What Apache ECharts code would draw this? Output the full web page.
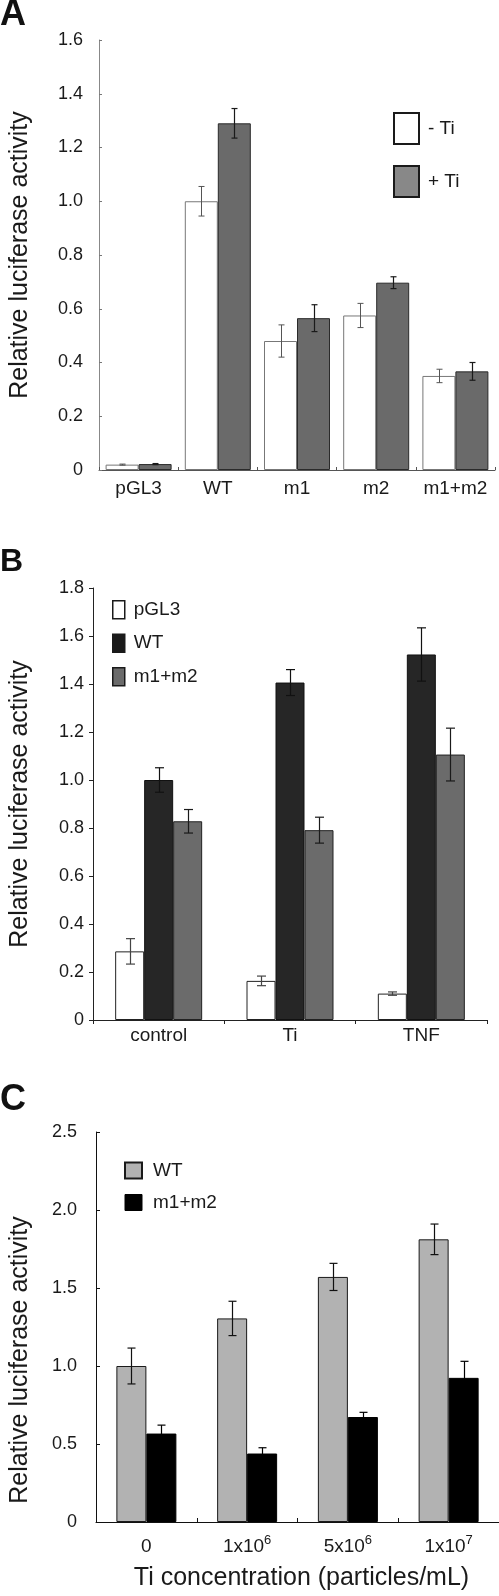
<!DOCTYPE html>
<html>
<head>
<meta charset="utf-8">
<script src="https://cdn.jsdelivr.net/npm/echarts@6/dist/echarts.min.js"></script>
<style>
  html, body { margin: 0; padding: 0; background: #fff; }
  body { width: 499px; height: 1596px; position: relative; overflow: hidden; }
  .panel { position: absolute; left: 0; width: 499px; }
</style>
</head>
<body>
<div id="pa" class="panel" style="top:0;height:500px"></div>
<div id="pb" class="panel" style="top:500px;height:545px"></div>
<div id="pc" class="panel" style="top:1045px;height:551px"></div>
<script>
// ---------- Panel A data ----------
const catsA = ['pGL3', 'WT', 'm1', 'm2', 'm1+m2'];
const minusTi = [0.02, 1.00, 0.48, 0.575, 0.35];
const minusTiErr = [0.002, 0.055, 0.06, 0.045, 0.025];
const plusTi = [0.022, 1.29, 0.565, 0.697, 0.367];
const plusTiErr = [0.002, 0.055, 0.05, 0.022, 0.033];
const yTicksA = ['0', '0.2', '0.4', '0.6', '0.8', '1.0', '1.2', '1.4', '1.6'];

// ---------- Panel B data ----------
const catsB = ['control', 'Ti', 'TNF'];
const pGL3B = [0.286, 0.163, 0.11];
const pGL3BErr = [0.053, 0.02, 0.007];
const wtB = [1.0, 1.406, 1.523];
const wtBErr = [0.051, 0.054, 0.111];
const m12B = [0.828, 0.791, 1.106];
const m12BErr = [0.049, 0.054, 0.11];
const yTicksB = ['0', '0.2', '0.4', '0.6', '0.8', '1.0', '1.2', '1.4', '1.6', '1.8'];

// ---------- Panel C data ----------
const catsC = ['0', '1x10^6', '5x10^6', '1x10^7'];
const wtC = [1.0, 1.305, 1.571, 1.812];
const wtCErr = [0.115, 0.11, 0.087, 0.098];
const m12C = [0.567, 0.439, 0.673, 0.924];
const m12CErr = [0.054, 0.037, 0.03, 0.106];
const yTicksC = ['0', '0.5', '1.0', '1.5', '2.0', '2.5'];

const FONT = 'Liberation Sans, Arial, Helvetica, sans-serif';
const TXT = '#1a1a1a';

function errSeries(values, errs, idx, n, barW, capHalf, color, lw) {
  return {
    type: 'custom',
    silent: true,
    z: 10,
    encode: { x: 0, y: 1 },
    data: values.map((v, i) => [i, v, errs[i]]),
    renderItem: function (params, api) {
      const ci = api.value(0), v = api.value(1), e = api.value(2);
      const off = (idx - (n - 1) / 2) * barW;
      const t = api.coord([ci, v + e]);
      const b = api.coord([ci, v - e]);
      const x = Math.round(t[0] + off) + 0.5;
      const st = { stroke: color, lineWidth: lw };
      return {
        type: 'group',
        children: [
          { type: 'line', shape: { x1: x, y1: t[1], x2: x, y2: b[1] }, style: st },
          { type: 'line', shape: { x1: x - capHalf, y1: t[1], x2: x + capHalf, y2: t[1] }, style: st },
          { type: 'line', shape: { x1: x - capHalf, y1: b[1], x2: x + capHalf, y2: b[1] }, style: st }
        ]
      };
    }
  };
}

function barSeries(name, values, barW, fill, border, bw) {
  return {
    name: name, type: 'bar', data: values, barWidth: barW, barGap: '0%',
    itemStyle: { color: fill, borderColor: border, borderWidth: bw },
    silent: true, animation: false
  };
}

// ---------- Chart A ----------
const chA = echarts.init(document.getElementById('pa'), null, { renderer: 'canvas' });
chA.setOption({
  animation: false,
  textStyle: { fontFamily: FONT },
  title: { text: 'A', left: 0, top: -3, padding: 0, textStyle: { fontFamily: FONT, fontSize: 36, fontWeight: 'bold', color: '#111' } },
  legend: {
    orient: 'vertical', left: 393, top: 112, padding: 0, icon: 'rect',
    itemWidth: 25, itemHeight: 31, itemGap: 20,
    textStyle: { fontFamily: FONT, fontSize: 19, color: TXT, padding: [0, 0, 0, 4] },
    data: [
      { name: '- Ti', itemStyle: { color: '#fff', borderColor: '#1a1a1a', borderWidth: 2 } },
      { name: '+ Ti', itemStyle: { color: '#888', borderColor: '#1a1a1a', borderWidth: 2 } }
    ]
  },
  grid: { left: 94, top: 40, width: 401, height: 430 },
  xAxis: {
    type: 'category', data: catsA,
    axisLine: { lineStyle: { color: '#555', width: 1 } },
    axisTick: { show: true, inside: true, length: 3, lineStyle: { color: '#555' } },
    axisLabel: { fontFamily: FONT, fontSize: 19, color: TXT, margin: 9, interval: 0 }
  },
  yAxis: {
    type: 'value', min: 0, max: 1.6, interval: 0.2,
    name: 'Relative luciferase activity', nameLocation: 'middle', nameGap: 66,
    nameTextStyle: { fontFamily: FONT, fontSize: 25, color: TXT },
    splitLine: { show: false },
    axisLine: { show: true, lineStyle: { color: '#888', width: 1 } },
    axisTick: { show: true, inside: true, length: 3, lineStyle: { color: '#777' } },
    axisLabel: { fontFamily: FONT, fontSize: 18, color: TXT, margin: 16, formatter: (v, i) => yTicksA[i] }
  },
  series: [
    barSeries('- Ti', minusTi, 33, '#fff', '#777', 1),
    barSeries('+ Ti', plusTi, 33, '#6a6a6a', '#2a2a2a', 1),
    errSeries(minusTi, minusTiErr, 0, 2, 33, 3, '#555', 1),
    errSeries(plusTi, plusTiErr, 1, 2, 33, 3, '#1a1a1a', 1.2)
  ]
});

// ---------- Chart B ----------
const chB = echarts.init(document.getElementById('pb'), null, { renderer: 'canvas' });
chB.setOption({
  animation: false,
  textStyle: { fontFamily: FONT },
  title: { text: 'B', left: 0, top: 46, padding: 0, textStyle: { fontFamily: FONT, fontSize: 32, fontWeight: 'bold', color: '#111' } },
  legend: {
    orient: 'vertical', left: 112, top: 100, padding: 0, icon: 'rect',
    itemWidth: 12, itemHeight: 18, itemGap: 14,
    textStyle: { fontFamily: FONT, fontSize: 19, color: TXT, padding: [0, 0, 0, 4] },
    data: [
      { name: 'pGL3', itemStyle: { color: '#fff', borderColor: '#1a1a1a', borderWidth: 1.5 } },
      { name: 'WT', itemStyle: { color: '#1a1a1a', borderColor: '#1a1a1a', borderWidth: 1.5 } },
      { name: 'm1+m2', itemStyle: { color: '#6b6b6b', borderColor: '#1a1a1a', borderWidth: 1.5 } }
    ]
  },
  grid: { left: 88, top: 88, width: 399, height: 435 },
  xAxis: {
    type: 'category', data: catsB,
    axisLine: { lineStyle: { color: '#222', width: 1 } },
    axisTick: { show: true, inside: false, length: 4, lineStyle: { color: '#222' } },
    axisLabel: { fontFamily: FONT, fontSize: 19, color: TXT, margin: 6, interval: 0 }
  },
  yAxis: {
    type: 'value', min: 0, max: 1.8, interval: 0.2,
    name: 'Relative luciferase activity', nameLocation: 'middle', nameGap: 60,
    nameTextStyle: { fontFamily: FONT, fontSize: 25, color: TXT },
    splitLine: { show: false },
    axisLine: { show: true, lineStyle: { color: '#222', width: 1 } },
    axisTick: { show: true, inside: false, length: 4, lineStyle: { color: '#222' } },
    axisLabel: { fontFamily: FONT, fontSize: 18, color: TXT, margin: 9, formatter: (v, i) => yTicksB[i] }
  },
  series: [
    barSeries('pGL3', pGL3B, 29, '#fff', '#222', 1),
    barSeries('WT', wtB, 29, '#262626', '#111', 1),
    barSeries('m1+m2', m12B, 29, '#6b6b6b', '#222', 1),
    errSeries(pGL3B, pGL3BErr, 0, 3, 29, 4.5, '#444', 1.2),
    errSeries(wtB, wtBErr, 1, 3, 29, 4.5, '#111', 1.2),
    errSeries(m12B, m12BErr, 2, 3, 29, 4.5, '#1a1a1a', 1.2)
  ]
});

// ---------- Chart C ----------
const chC = echarts.init(document.getElementById('pc'), null, { renderer: 'canvas' });
chC.setOption({
  animation: false,
  textStyle: { fontFamily: FONT },
  title: { text: 'C', left: 0, top: 37, padding: 0, textStyle: { fontFamily: FONT, fontSize: 36, fontWeight: 'bold', color: '#111' } },
  legend: {
    orient: 'vertical', left: 124, top: 116, padding: 0, icon: 'rect',
    itemWidth: 17, itemHeight: 16, itemGap: 13,
    textStyle: { fontFamily: FONT, fontSize: 19, color: TXT, padding: [0, 0, 0, 6] },
    data: [
      { name: 'WT', itemStyle: { color: '#b2b2b2', borderColor: '#1a1a1a', borderWidth: 2 } },
      { name: 'm1+m2', itemStyle: { color: '#000', borderColor: '#000', borderWidth: 1 } }
    ]
  },
  grid: { left: 88, top: 87, width: 411, height: 395 },
  xAxis: {
    type: 'category', data: catsC,
    name: 'Ti concentration (particles/mL)', nameLocation: 'middle', nameGap: 44,
    nameTextStyle: { fontFamily: FONT, fontSize: 25, color: TXT, padding: [0, 0, 0, 8] },
    axisLine: { lineStyle: { color: '#111', width: 1 } },
    axisTick: { show: true, inside: true, length: 4, lineStyle: { color: '#111' } },
    axisLabel: {
      interval: 0, margin: 12, color: TXT, fontFamily: FONT, fontSize: 19,
      formatter: function (v) {
        const p = v.split('^');
        return p.length > 1 ? '{b|' + p[0] + '}{s|' + p[1] + '}' : '{b|' + v + '}';
      },
      rich: {
        b: { fontFamily: FONT, fontSize: 19, lineHeight: 26, color: TXT },
        s: { fontFamily: FONT, fontSize: 13, lineHeight: 14, color: TXT, verticalAlign: 'top' }
      }
    }
  },
  yAxis: {
    type: 'value', min: 0, max: 2.5, interval: 0.5,
    name: 'Relative luciferase activity', nameLocation: 'middle', nameGap: 63,
    nameTextStyle: { fontFamily: FONT, fontSize: 25, color: TXT, padding: [0, 66, 0, 0] },
    splitLine: { show: false },
    axisLine: { show: true, lineStyle: { color: '#111', width: 1 } },
    axisTick: { show: true, inside: true, length: 4, lineStyle: { color: '#111' } },
    axisLabel: { fontFamily: FONT, fontSize: 18, color: TXT, margin: 19, formatter: (v, i) => yTicksC[i] }
  },
  series: [
    barSeries('WT', wtC, 30, '#b2b2b2', '#1a1a1a', 1),
    barSeries('m1+m2', m12C, 30, '#000', '#000', 1),
    errSeries(wtC, wtCErr, 0, 2, 30, 4, '#111', 1.2),
    errSeries(m12C, m12CErr, 1, 2, 30, 4, '#000', 1.2)
  ]
});
</script>
</body>
</html>
